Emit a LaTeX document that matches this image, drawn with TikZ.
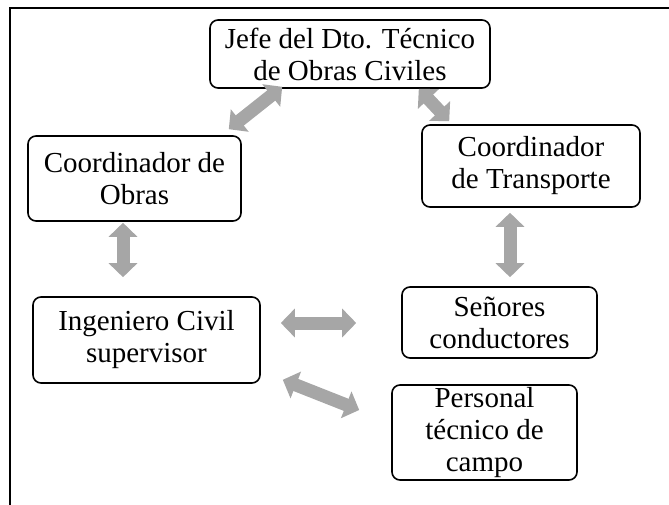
\documentclass[tikz,border=0pt]{standalone}
\usepackage{fontspec}
\setmainfont{Liberation Serif}
\usetikzlibrary{arrows.meta,positioning,calc}
\definecolor{arrowgray}{HTML}{A6A6A6}

\begin{document}
\begin{tikzpicture}[x=1pt, y=-1pt,
        box/.style={draw=black, line width=1.6pt, rounded corners=8pt, align=center,
          font=\fontsize{29}{32}\selectfont, inner sep=0pt},
        dblarrow/.style={draw=arrowgray, line width=13pt,
          {Triangle[length=14pt,width=28pt]}-{Triangle[length=14pt,width=28pt]}}]
        \useasboundingbox (0,0) rectangle (669,505);
        % marco
        \draw[line width=1.2pt] (10,505) -- (10,8) -- (669,8);
        % cajas
        \node[box, minimum width=280pt, minimum height=68pt] (jefe) at (350,54) {Jefe del Dto. Técnico\\de Obras Civiles};
        \node[box, minimum width=213pt, minimum height=85pt] (obras) at (134.5,178.5) {Coordinador de\\Obras};
        \node[box, minimum width=218pt, minimum height=82pt] (transporte) at (531,166) {Coordinador\\de Transporte};
        \node[box, minimum width=227pt, minimum height=86pt] (ingeniero) at (146.5,340) {Ingeniero Civil\\supervisor};
        \node[box, minimum width=195pt, minimum height=71pt] (conductores) at (499.5,322.5) {Señores\\conductores};
        \node[box, minimum width=185pt, minimum height=95pt] (personal) at (484.5,432.5) {Personal\\técnico de\\campo};
        % flechas
        \draw[dblarrow] ([shift={(-13,-6)}]obras.north east) -- ([shift={(73,-2)}]jefe.south west);
        \draw[dblarrow] ([shift={(-72,0)}]jefe.south east) -- ([shift={(28,-3)}]transporte.north west);
        \draw[dblarrow] ([shift={(-11.5,1)}]obras.south) -- ([shift={(-23.5,-19)}]ingeniero.north);
        \draw[dblarrow] ([shift={(-21,5)}]transporte.south) -- ([shift={(10.5,-9)}]conductores.north);
        \draw[dblarrow] ([shift={(20,-17)}]ingeniero.east) -- ([shift={(-45,0.5)}]conductores.west);
        \draw[dblarrow] ([shift={(22,-4)}]ingeniero.south east) -- ([shift={(-32,-22.5)}]personal.west);
      \end{tikzpicture}
\end{document}
